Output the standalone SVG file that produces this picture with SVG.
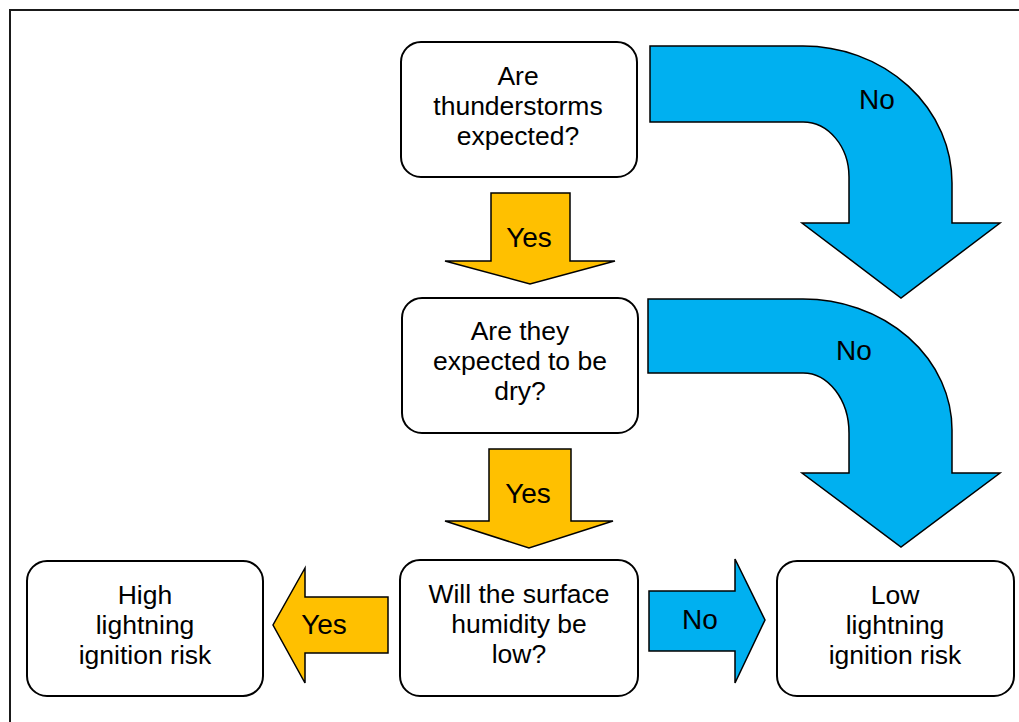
<svg xmlns="http://www.w3.org/2000/svg" width="1019" height="722" viewBox="0 0 1019 722">
  <style>
    .node rect { fill: #ffffff; stroke: #000000; stroke-width: 2; }
    .node text { font-family: "Liberation Sans", Arial, sans-serif; font-size: 26.5px; fill: #000000; text-anchor: middle; }
    .yes { fill: #FFC000; stroke: #000000; stroke-width: 1.5; stroke-linejoin: miter; }
    .no { fill: #00B0F0; stroke: #000000; stroke-width: 1.5; stroke-linejoin: miter; }
    .lbl { font-family: "Liberation Sans", Arial, sans-serif; font-size: 28px; fill: #000000; text-anchor: middle; }
  </style>

  <rect x="0" y="0" width="1019" height="722" fill="#ffffff"/>
  <!-- outer frame -->
  <rect x="10" y="10" width="1030" height="740" fill="none" stroke="#1a1a1a" stroke-width="2"/>

  <g id="connectors">
    <!-- No: thunderstorms -> low risk -->
    <path class="no" d="M650 46 H803 A149 137 0 0 1 952 183 V223 H1000 L901 298 L802 223 H849 V177 A46 55 0 0 0 803 122 H650 Z"/>
    <text class="lbl" x="877" y="109">No</text>

    <!-- No: dry -> low risk -->
    <path class="no" d="M648 299 H803 A149 131 0 0 1 952 430 V473 H1000 L901 547 L802 473 H849 V433 A46 60 0 0 0 803 373 H648 Z"/>
    <text class="lbl" x="854" y="360">No</text>

    <!-- Yes: thunderstorms -> dry -->
    <path class="yes" d="M491 193 H570 V261 H615 L530 284 L445 261 H491 Z"/>
    <text class="lbl" x="529" y="247">Yes</text>

    <!-- Yes: dry -> humidity -->
    <path class="yes" d="M489 449 H571 V521 H613 L529 548 L445 521 H489 Z"/>
    <text class="lbl" x="528" y="503">Yes</text>

    <!-- Yes: humidity -> high risk -->
    <path class="yes" d="M388 597 V653 H305 V683 L273 625 L305 568 V597 Z"/>
    <text class="lbl" x="324" y="634">Yes</text>

    <!-- No: humidity -> low risk -->
    <path class="no" d="M649 591 H735 V559 L765 620 L735 683 V651 H649 Z"/>
    <text class="lbl" x="700" y="629">No</text>
  </g>

  <g id="node-thunderstorms" class="node">
    <rect x="401" y="42" width="236" height="135" rx="20" ry="20"/>
    <text x="518" y="85">Are</text>
    <text x="518" y="115">thunderstorms</text>
    <text x="518" y="145">expected?</text>
  </g>

  <g id="node-dry" class="node">
    <rect x="402" y="298" width="236" height="135" rx="20" ry="20"/>
    <text x="520" y="340">Are they</text>
    <text x="520" y="370">expected to be</text>
    <text x="520" y="400">dry?</text>
  </g>

  <g id="node-humidity" class="node">
    <rect x="400" y="560" width="238" height="136" rx="20" ry="20"/>
    <text x="519" y="603">Will the surface</text>
    <text x="519" y="633">humidity be</text>
    <text x="519" y="663">low?</text>
  </g>

  <g id="node-high-risk" class="node">
    <rect x="27" y="561" width="236" height="135" rx="20" ry="20"/>
    <text x="145" y="604">High</text>
    <text x="145" y="634">lightning</text>
    <text x="145" y="664">ignition risk</text>
  </g>

  <g id="node-low-risk" class="node">
    <rect x="777" y="561" width="237" height="135" rx="20" ry="20"/>
    <text x="895" y="604">Low</text>
    <text x="895" y="634">lightning</text>
    <text x="895" y="664">ignition risk</text>
  </g>
</svg>
